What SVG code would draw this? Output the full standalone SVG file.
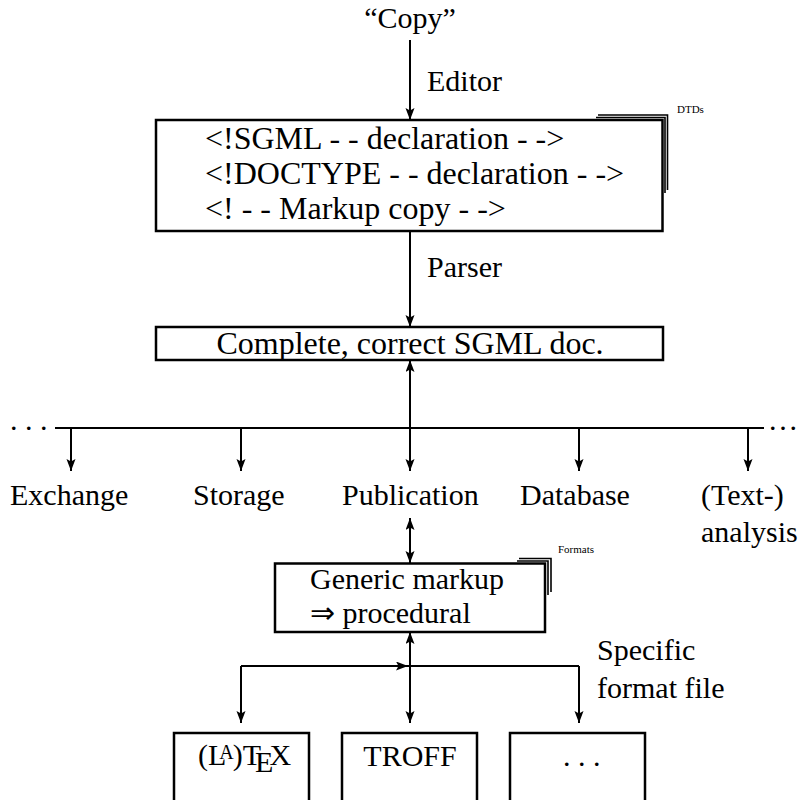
<svg xmlns="http://www.w3.org/2000/svg" width="799" height="800" viewBox="0 0 799 800">
  <defs>
    <marker id="arr" markerUnits="userSpaceOnUse" markerWidth="14" markerHeight="10" refX="12" refY="4.5" orient="auto-start-reverse" viewBox="0 0 14 10">
      <path d="M0,0 L12,4.5 L0,9 L2.5,4.5 Z" fill="#000"/>
    </marker>
  </defs>
  <style>
    text { font-family: "Liberation Serif", "Times New Roman", serif; fill: #000; }
    .t { font-size: 30px; }
    .bt { font-size: 32px; }
    .sm { font-size: 11px; }
    .box { fill: #fff; stroke: #000; stroke-width: 2.5; }
    .open { fill: none; stroke: #000; stroke-width: 2.5; }
    .stack { fill: none; stroke: #000; stroke-width: 1.6; }
    .wire { fill: none; stroke: #000; stroke-width: 2; }
    .arrow { marker-end: url(#arr); }
    .both { marker-start: url(#arr); marker-end: url(#arr); }
  </style>
  <rect width="799" height="800" fill="#fff"/>

  <!-- connectors -->
  <g id="connectors">
    <path class="wire arrow" d="M410,40 V120"/>
    <path class="wire arrow" d="M410,231 V327"/>
    <path class="wire arrow" d="M410,428 V360"/>
    <path class="wire" d="M55,428 H764"/>
    <path class="wire arrow" d="M71,428 V471"/>
    <path class="wire arrow" d="M241,428 V471"/>
    <path class="wire arrow" d="M410,428 V471"/>
    <path class="wire arrow" d="M579,428 V471"/>
    <path class="wire arrow" d="M748,428 V471"/>
    <path class="wire both" d="M410,518 V563"/>
    <path class="wire arrow" d="M410,666 V632"/>
    <path class="wire arrow" d="M241,666 H408"/>
    <path class="wire" d="M408,666 H579"/>
    <path class="wire arrow" d="M241,666 V723"/>
    <path class="wire arrow" d="M410,666 V723"/>
    <path class="wire arrow" d="M579,666 V723"/>
  </g>

  <!-- free labels -->
  <g id="labels">
    <text class="t" x="410" y="28" text-anchor="middle">“Copy”</text>
    <text class="t" x="427" y="91">Editor</text>
    <text class="t" x="427" y="277">Parser</text>
    <text class="t" x="10" y="430">. . .</text>
    <text class="t" x="769" y="430" textLength="28" lengthAdjust="spacing">. . .</text>
    <text class="t" x="597" y="660">Specific</text>
    <text class="t" x="597" y="698">format file</text>
  </g>

  <g id="sgml-source">
    <polyline class="stack" points="596,117.5 665,117.5 665,193"/>
    <polyline class="stack" points="598,115 667.5,115 667.5,190"/>
    <rect class="box" x="156" y="120" width="506.5" height="111"/>
    <text class="bt" x="205" y="149">&lt;!SGML - - declaration - -&gt;</text>
    <text class="bt" x="205" y="184">&lt;!DOCTYPE - - declaration - -&gt;</text>
    <text class="bt" x="205" y="219">&lt;! - - Markup copy - -&gt;</text>
    <text class="sm" x="677" y="113">DTDs</text>
  </g>

  <g id="sgml-doc">
    <rect class="box" x="156" y="327" width="507" height="33"/>
    <text class="bt" x="410" y="354" text-anchor="middle">Complete, correct SGML doc.</text>
  </g>

  <g id="exchange"><text class="t" x="10" y="505">Exchange</text></g>
  <g id="storage"><text class="t" x="193" y="505">Storage</text></g>
  <g id="publication"><text class="t" x="342" y="505">Publication</text></g>
  <g id="database"><text class="t" x="520" y="505">Database</text></g>
  <g id="analysis">
    <text class="t" x="701" y="505">(Text-)</text>
    <text class="t" x="701" y="542">analysis</text>
  </g>

  <g id="generic-markup">
    <polyline class="stack" points="517,561 548,561 548,595"/>
    <polyline class="stack" points="519,558.5 551,558.5 551,592"/>
    <rect class="box" x="275" y="563.5" width="270" height="68.5"/>
    <text class="t" x="310" y="589">Generic markup</text>
    <text class="t" x="310" y="623">⇒ procedural</text>
    <text class="sm" x="558" y="553">Formats</text>
  </g>

  <g id="latex">
    <path class="open" d="M174,810 V733 H309 V810"/>
    <text class="t" x="198" y="765">(L<tspan font-size="20" dx="-7" dy="-6">A</tspan><tspan dx="-1" dy="6">)T</tspan><tspan dx="-6" dy="7">E</tspan><tspan dx="-4" dy="-7">X</tspan></text>
  </g>
  <g id="troff">
    <path class="open" d="M342,810 V733 H477 V810"/>
    <text class="t" x="410" y="766" text-anchor="middle">TROFF</text>
  </g>
  <g id="other-formats">
    <path class="open" d="M510,810 V733 H645 V810"/>
    <text class="t" x="563" y="766">. . .</text>
  </g>
</svg>
